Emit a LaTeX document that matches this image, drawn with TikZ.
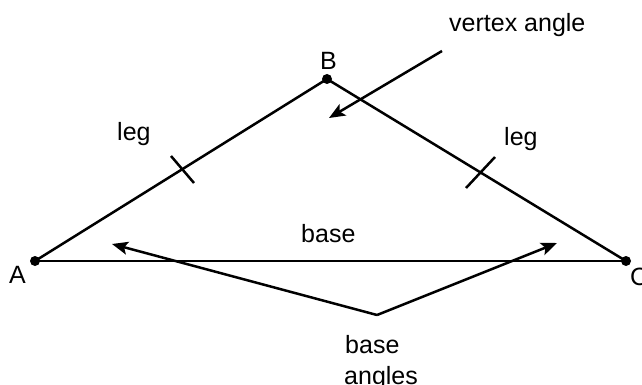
\documentclass[tikz,border=0pt]{standalone}
\usepackage{fontspec}
\setmainfont{Liberation Sans}
\usetikzlibrary{arrows.meta}
\begin{document}
\begin{tikzpicture}[x=1pt,y=-1pt,
  line/.style={line width=2.5pt, black},
  pointer/.style={line width=2.5pt, black, -{Stealth[length=16pt,width=13pt,inset=3.5pt]}},
  vdot/.style={circle, fill=black, inner sep=0pt, minimum size=10pt},
  lbl/.style={inner sep=0pt, font=\fontsize{25}{30}\selectfont, anchor=base west}]
\useasboundingbox (0,0) rectangle (642,385);
% vertices
\node[vdot] (A) at (35,261) {};
\node[vdot] (B) at (327,79) {};
\node[vdot] (C) at (626,261) {};
% sides
\draw[line] (A.center) -- (B.center);
\draw[line] (B.center) -- (C.center);
\draw[line] (A.center) -- (C.center);
% tick marks
\draw[line] (171,156) coordinate (t1a) -- (194,183) coordinate (t1b);
\draw[line] (495,157) coordinate (t2a) -- (466,188) coordinate (t2b);
% labels
\node[lbl] (lA) at (9,283) {A};
\node[lbl] (lB) at (320,70) {B};
\node[lbl] (lC) at (630,285) {C};
\node[lbl] (leg1) at (117,140) {leg};
\node[lbl] (leg2) at (504,145) {leg};
\node[lbl] (base1) at (301,242) {base};
\node[lbl] (va) at (449,32) {vertex angle};
\node[lbl] (ba1) at (345,353) {base};
\node[lbl] (ba2) at (344,384) {angles};
% pointers
\coordinate (vaS) at (442,51);
\coordinate (vaT) at (329,118);
\draw[pointer] (vaS) -- (vaT);
\coordinate (V) at (377,315);
\coordinate (bL) at (112,244);
\coordinate (bR) at (557,243);
\draw[pointer] (V) -- (bL);
\draw[pointer] (V) -- (bR);
\end{tikzpicture}
\end{document}
